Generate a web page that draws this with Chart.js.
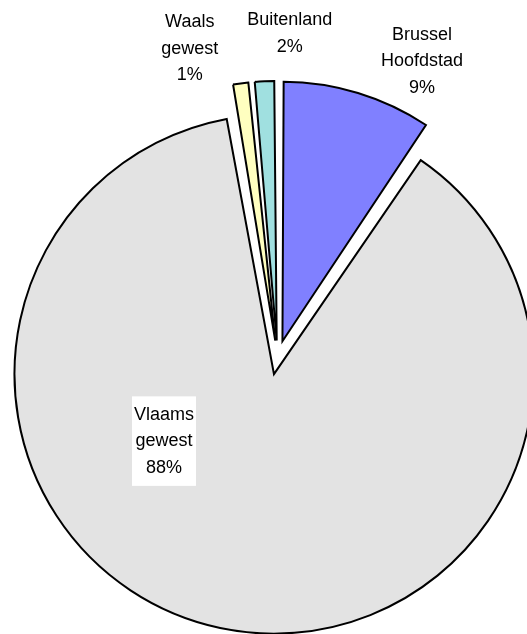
<!DOCTYPE html>
<html>
<head>
<meta charset="utf-8">
<script src="https://cdn.jsdelivr.net/npm/chart.js@4"></script>
<style>
  body { margin: 0; background: #fff; }
  #wrap { width: 527px; height: 634px; }
</style>
</head>
<body>
<div id="wrap"><canvas id="herkomst"></canvas></div>
<script>
const categories = ['Brussel Hoofdstad', 'Vlaams gewest', 'Waals gewest', 'Buitenland'];
const labelLines = [['Brussel', 'Hoofdstad'], ['Vlaams', 'gewest'], ['Waals', 'gewest'], ['Buitenland']];
const shares = [9.4, 87.85, 1.25, 1.5];
const sliceColors = ['#8080ff', '#e3e3e3', '#ffffc0', '#a0e0e0'];

const total = shares.reduce((a, b) => a + b, 0);
const RADIUS = 259.5;
const EXPLODE = 17;      // px each slice is pulled out
const LINE_H = 26.5;
const LABEL_FONT = '18px "Liberation Sans", Arial, sans-serif';
// label centre, as [dx, dy] from the tip of its own (pulled out) slice
const labelShift = [[139.5, -280], [-110, 67], [-85.5, -292], [13, -307]];

function pct(i) {
    return Math.round(shares[i] / total * 100 + 1e-9) + '%';
}

// Chart.js v4 grows an offset arc's radius by offset/4 * (1 - sin(sweep)); take that back
const evenRadius = {
    id: 'evenRadius',
    beforeDatasetsDraw(chart) {
        chart.getDatasetMeta(0).data.forEach((arc) => {
            const fix = 1 - Math.sin(Math.min(Math.PI, arc.circumference));
            arc.outerRadius = RADIUS - EXPLODE * fix;
        });
    }
};

const sliceLabels = {
    id: 'sliceLabels',
    afterDatasetsDraw(chart) {
        const ctx = chart.ctx;
        const arcs = chart.getDatasetMeta(0).data;
        ctx.save();
        ctx.font = LABEL_FONT;
        ctx.textAlign = 'center';
        ctx.textBaseline = 'middle';
        arcs.forEach((arc, i) => {
            const mid = (arc.startAngle + arc.endAngle) / 2;
            const x = arc.x + Math.cos(mid) * EXPLODE + labelShift[i][0];
            const y = arc.y + Math.sin(mid) * EXPLODE + labelShift[i][1];
            const lines = labelLines[i].concat(pct(i));
            const h = lines.length * LINE_H;
            if (i === 1) {
                ctx.fillStyle = '#fff';
                ctx.fillRect(x - 32, y - h / 2 - 5, 64, h + 10);
            }
            ctx.fillStyle = '#000';
            lines.forEach((t, k) => ctx.fillText(t, x, y - h / 2 + LINE_H * (k + 0.5)));
        });
        ctx.restore();
    }
};

const ctx = document.getElementById('herkomst').getContext('2d');
const herkomstChart = new Chart(ctx, {
    type: 'pie',
    data: {
        labels: categories,
        datasets: [{
            data: shares,
            backgroundColor: sliceColors,
            borderColor: '#000',
            borderWidth: 2,
            borderJoinStyle: 'miter',
            radius: RADIUS,
            clip: false,
            offset: 4 * EXPLODE   // v4 moves the arc by offset / 4
        }]
    },
    options: {
        responsive: true,
        maintainAspectRatio: false,
        animation: false,
        layout: { padding: { left: 28, top: 81, right: 0, bottom: 0 } },
        plugins: {
            legend: { display: false },
            tooltip: { enabled: false }
        }
    },
    plugins: [evenRadius, sliceLabels]
});
</script>
</body>
</html>
